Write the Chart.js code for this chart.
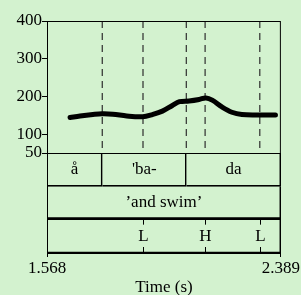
<!DOCTYPE html>
<html lang="en">
<head>
<meta charset="UTF-8">
<title>Pitch track: 'and swim'</title>
<script src="https://cdn.jsdelivr.net/npm/chart.js"></script>
<style>
  html, body { margin: 0; padding: 0; background: #d3f2cf; }
  canvas { display: block; }
</style>
</head>
<body>
<canvas id="pitchChart" width="301" height="295"></canvas>
<script>
// time axis (s) and pitch ticks (Hz)
const timeRange = [1.568, 2.389];
const pitchTicks = [50, 100, 200, 300, 400];

// f0 contour
const f0Times  = [1.649, 1.684, 1.729, 1.761, 1.799, 1.848, 1.904, 1.938, 1.973, 2.008,
                  2.033, 2.067, 2.102, 2.126, 2.148, 2.182, 2.217, 2.252, 2.311, 2.370];
const f0Values = [144, 148, 152, 154, 153, 148, 146, 152, 161, 176,
                  186, 188, 192, 196, 190, 172, 158, 152, 151, 151];

// dashed segment boundaries in the pitch panel
const boundaryTimes = [1.762, 1.905, 2.057, 2.123, 2.315];

// annotation tiers
const tierNames = ['syllable', 'gloss', 'tone'];
const syllables = ['å', "'ba-", 'da'];
const syllableEdges = [1.568, 1.762, 2.057, 2.389];
const glossText = '’and swim’';
const toneLabels = ['L', 'H', 'L'];
const toneTimes = [1.905, 2.123, 2.315];

const serif = '"Liberation Serif", "DejaVu Serif", serif';

// dashed lines: top to bottom, broken by nulls
const boundaryData = [];
boundaryTimes.forEach(t => {
    boundaryData.push({x: t, y: 400}, {x: t, y: 50}, {x: t, y: null});
});

// tier cells as floating horizontal bars
const cellData = [];
const cellBorders = [];
syllables.forEach((s, i) => {
    cellData.push({x: [syllableEdges[i], syllableEdges[i + 1]], y: 'syllable'});
    cellBorders.push({top: 0, left: 0, right: 1, bottom: 1});
});
cellData.push({x: timeRange, y: 'gloss'});
cellBorders.push({top: 0, left: 0, right: 1, bottom: 2});
cellData.push({x: timeRange, y: 'tone'});
cellBorders.push({top: 0, left: 0, right: 1, bottom: 1});

const tierPlugin = {
    id: 'tiers',
    afterDatasetsDraw(chart) {
        const ctx = chart.ctx;
        const x = chart.scales.x;
        const y = chart.scales.y;
        const tier = chart.scales.tier;
        ctx.save();
        // pitch panel frame
        ctx.strokeStyle = '#000';
        ctx.lineWidth = 1;
        ctx.strokeRect(x.left + 0.5, y.top + 0.5, x.right - x.left - 1, y.bottom - y.top);

        ctx.fillStyle = '#000';
        ctx.font = '17px ' + serif;
        ctx.textAlign = 'center';
        ctx.textBaseline = 'middle';
        syllables.forEach((s, i) => {
            const cx = x.getPixelForValue((syllableEdges[i] + syllableEdges[i + 1]) / 2);
            ctx.fillText(s, cx, tier.getPixelForValue(0));
        });
        ctx.fillText(glossText, x.getPixelForValue((timeRange[0] + timeRange[1]) / 2), tier.getPixelForValue(1));

        const toneY = tier.getPixelForValue(2);
        const half = (tier.bottom - tier.top) / 6;
        toneLabels.forEach((lab, i) => {
            const px = Math.round(x.getPixelForValue(toneTimes[i])) + 0.5;
            ctx.fillText(lab, px, toneY);
            ctx.beginPath();
            ctx.moveTo(px, toneY - half);
            ctx.lineTo(px, toneY - half + 5);
            ctx.moveTo(px, toneY + half);
            ctx.lineTo(px, toneY + half - 6);
            ctx.stroke();
        });
        ctx.restore();
    }
};

const ctx = document.getElementById('pitchChart').getContext('2d');
new Chart(ctx, {
    type: 'line',
    data: {
        datasets: [
            {
                label: 'f0',
                data: f0Times.map((t, i) => ({x: t, y: f0Values[i]})),
                xAxisID: 'x',
                yAxisID: 'y',
                borderColor: '#000',
                borderWidth: 5,
                borderCapStyle: 'round',
                pointRadius: 0,
                tension: 0.35
            },
            {
                label: 'boundaries',
                data: boundaryData,
                xAxisID: 'x',
                yAxisID: 'y',
                borderColor: '#2e2e2e',
                borderWidth: 1.2,
                borderDash: [7, 5],
                pointRadius: 0,
                spanGaps: false
            },
            {
                type: 'bar',
                label: 'tiers',
                indexAxis: 'y',
                data: cellData,
                xAxisID: 'x',
                yAxisID: 'tier',
                backgroundColor: 'rgba(0,0,0,0)',
                borderColor: '#000',
                borderWidth: cellBorders,
                borderSkipped: false,
                barPercentage: 1,
                categoryPercentage: 1,
                grouped: false
            }
        ]
    },
    options: {
        responsive: false,
        animation: false,
        events: [],
        layout: {padding: {top: 21, right: 0, bottom: 0, left: 0}},
        plugins: {
            legend: {display: false},
            tooltip: {enabled: false}
        },
        scales: {
            x: {
                type: 'linear',
                position: 'bottom',
                min: timeRange[0],
                max: timeRange[1],
                afterBuildTicks: axis => { axis.ticks = timeRange.map(v => ({value: v})); },
                afterFit: axis => { axis.height = 42; },
                ticks: {
                    color: '#000',
                    font: {family: serif, size: 17},
                    padding: 1,
                    maxRotation: 0,
                    autoSkip: false,
                    callback: v => v.toFixed(3)
                },
                grid: {display: true, drawOnChartArea: false, drawTicks: true, tickLength: 4, color: '#000'},
                border: {display: true, color: '#000', width: 1},
                title: {
                    display: true,
                    text: 'Time (s)',
                    color: '#000',
                    font: {family: serif, size: 17, lineHeight: 1},
                    padding: {top: 0, bottom: -1}
                }
            },
            tier: {
                type: 'category',
                position: 'left',
                stack: 'panels',
                stackWeight: 100,
                labels: tierNames,
                offset: true,
                afterFit: axis => { axis.width = 47; },
                ticks: {display: false},
                grid: {display: false},
                border: {display: true, color: '#000', width: 1}
            },
            y: {
                type: 'linear',
                position: 'left',
                stack: 'panels',
                stackWeight: 132,
                min: 50,
                max: 400,
                afterBuildTicks: axis => { axis.ticks = pitchTicks.map(v => ({value: v})); },
                afterFit: axis => { axis.width = 47; },
                ticks: {color: '#000', font: {family: serif, size: 17}, padding: 0, autoSkip: false},
                grid: {display: true, drawOnChartArea: false, drawTicks: true, tickLength: 5, color: '#000'},
                border: {display: true, color: '#000', width: 1}
            }
        }
    },
    plugins: [tierPlugin]
});
</script>
</body>
</html>
